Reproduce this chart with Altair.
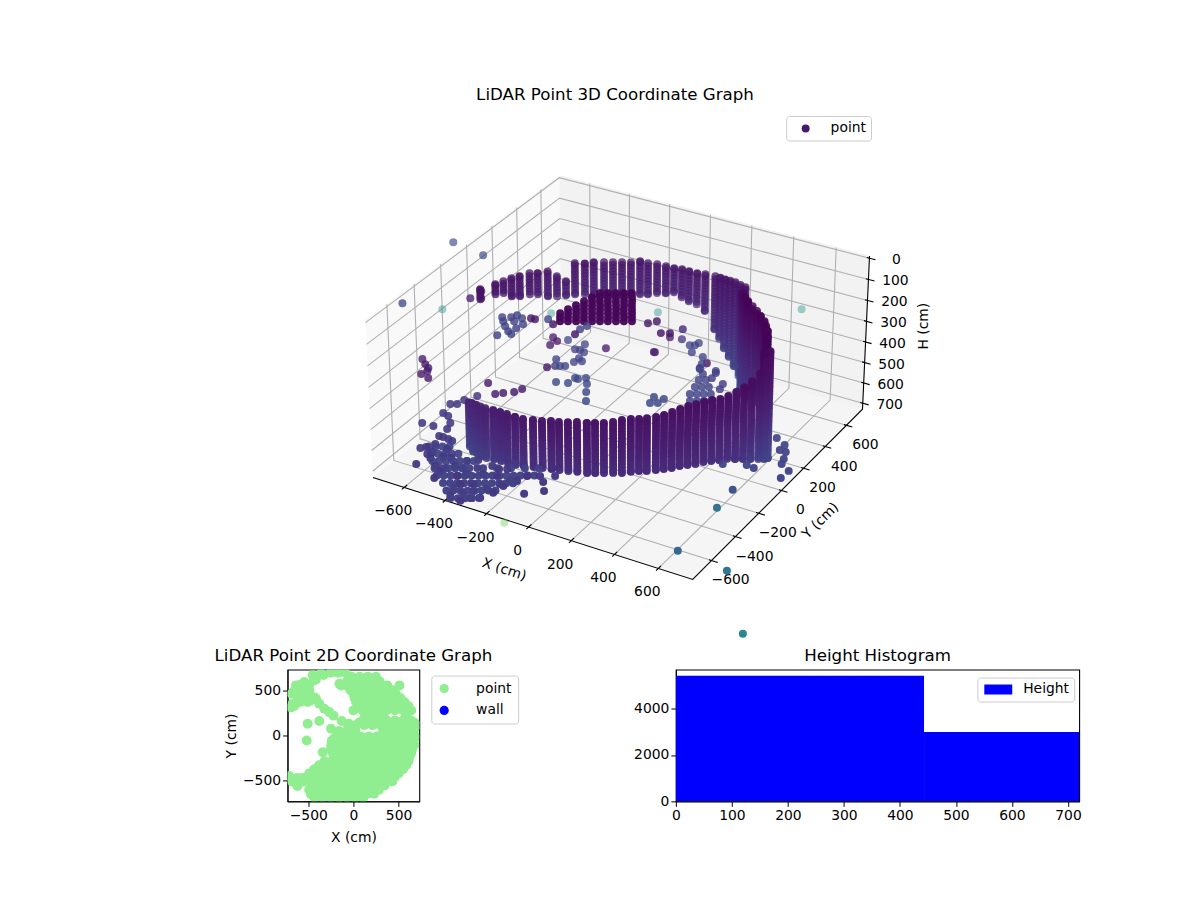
import math

import altair as alt
import numpy as np
import pandas as pd

FONT = "DejaVu Sans"

# scan columns of the ring: position, then first and last height of each column
ring_x = [-455,-420,-385,-350,-313,-258,-214,-173,-129,-87,-37,6,47,82,120,157,196,227,260,293,324,354,381,406,434,458,481,503,524,544,563,581,598,613,627,619,624,624,616,601,564,520,460,386,318,262,244,185,129,76,25,-15,-53,-86,-122,-158,-196,-234,-266,-302,-336,-369,-401,-436,-465,-496,-523,-548,-572,-596,-614,-633,-647,-658,-666,-669,596,545,490,423,352,290,253,215,157,103]
ring_y = [-475,-505,-528,-550,-570,-597,-614,-627,-637,-644,-649,-650,-648,-645,-639,-631,-620,-609,-596,-580,-564,-545,-527,-508,-484,-462,-438,-412,-385,-356,-324,-291,-255,-215,-173,-89,-31,40,107,170,205,300,386,460,509,562,624,644,657,666,670,670,668,664,659,651,641,628,615,598,580,559,537,509,482,450,419,385,349,306,269,219,176,129,77,-37,125,252,343,423,485,535,593,634,650,661]
ring_top = [424,402,389,375,362,341,329,319,314,308,295,286,275,271,263,256,254,251,248,241,231,227,229,227,226,221,213,206,200,200,201,203,212,214,213,235,235,233,213,201,182,193,204,212,207,209,214,215,222,225,231,237,236,234,236,232,228,227,220,227,227,226,225,221,222,215,295,262,228,224,211,208,201,197,189,161,190,188,198,208,210,208,212,215,218,223]
ring_bottom = [637,634,621,612,599,572,559,549,539,527,514,505,498,494,490,487,486,482,479,477,476,472,469,472,471,471,472,470,473,478,479,487,496,507,526,573,602,640,678,711,658,648,637,623,668,696,698,625,559,484,411,388,383,370,353,364,369,379,381,383,384,383,381,377,373,366,364,360,349,326,313,305,288,254,237,208,670,653,642,630,645,680,697,660,590,520]
scan_levels = [105,120,135,150,165,180,195,210,225,240,255,270,285,300,315,330,345,360,375,390,405,420,435,450,465,480,495,510,525,540,555,570,585,600,615,630,645,660,675,690,705]

# the dense clump near the sensor
clump_x = [-413,-384,-354,-325,-295,-266,-237,-207,-178,-148,-431,-402,-372,-343,-313,-284,-254,-225,-195,-166,-449,-420,-390,-361,-331,-302,-272,-242,-213,-183,-438,-408,-379,-349,-319,-290,-260,-231,-201,-427,-397,-367,-337,-308,-278,-248,-219,-415,-385,-356,-326,-296,-266,-236,-404,-374,-344,-314,-284,-254,-392,-362,-332,-302,-272]
clump_y = [186,203,220,237,254,271,288,305,322,339,216,233,250,267,284,302,319,336,353,370,247,264,281,298,315,332,349,366,383,400,294,311,328,345,362,380,397,414,431,342,359,376,393,410,428,445,462,390,407,424,441,458,476,493,438,455,472,490,507,524,486,503,521,538,555]
clump_h = 350

# loose returns
stray_x = [-1146,-966,-1030,-854,-803,-796,-763,-532,-596,-574,-544,-510,-486,-563,-534,-551,-495,-519,-488,-486,-467,-419,-378,-435,-507,-474,-482,-438,-254,-258,-246,-261,-66,-36,-12,-47,-357,-371,-349,-325,-317,-318,-293,-397,-395,-370,-352,-333,-891,-857,-827,-825,-781,-817,-540,-466,-441,-406,-390,-297,-249,-245,-230,-205,-176,-145,-108,121,131,159,165,-584,-559,-551,-517,-522,-570,-539,-501,-601,-548,-486,-484,-466,-439,-417,-464,-499,-401,-483,-440,-449,-422,-446,-381,-349,-371,-325,-333,-328,-302,-254,-266,-281,-246,-231,-217,-173,-137,-109,-101,-172,-116,-166,-211,-197,-143,-121,-87,-62,-55,-27,-12,33,85,67,105,48,-26,-219,-165,-138,-98,-73,-51,749,655,671,905,1159,873,876,827,817,744,709,622,757,799,770,771,717,249,319,255,170,206,328,267,292,317,342,239,264,289,315,229,254,280,215,241,469,53,86,-70,-17,116,38,57,63,75,-62,136,176,161,174,241,291]
stray_y = [489,451,-92,-51,90,167,114,-126,16,-11,-44,-74,-89,35,12,63,-35,51,9,70,71,99,72,150,281,260,215,291,44,92,129,312,385,279,313,384,297,238,242,235,180,140,164,124,46,71,81,92,-161,-191,-213,-270,-284,-236,-193,-255,-232,-202,-164,-43,-25,26,25,49,8,-51,-115,55,4,20,61,-418,-404,-362,-370,-307,-494,-504,-547,-605,-602,-594,-657,-655,-658,-663,-717,-774,-726,-755,-776,-799,-818,-885,-786,-776,-860,-938,-882,-852,-820,-879,-816,-763,-735,-849,-788,-745,-751,-735,-686,-815,-800,-898,-924,-1019,-1030,-992,-972,-915,-851,-792,-740,-714,-684,-746,-802,-860,-895,-963,-975,-942,-902,-845,-806,-421,-374,-726,-754,-1099,-246,-183,-150,-112,-233,-227,-269,-137,-60,-14,-58,19,360,293,314,363,325,250,101,116,130,145,151,166,181,195,213,227,242,272,287,713,232,251,533,544,308,515,526,550,466,387,452,415,397,356,375,452]
stray_h = [300]*24+[500]*4+[300]*3+[500]*2+[300]*3+[500]*35+[500]*57+[640]+[500]*6+[500]+[640]*4+[500]*31+[300]+[300]*2+[500]+[500]+[300]+[500]*11
stray_shade = [.22]*3+[.5]+[.08]*3+[.2]*12+[.06]*2+[.2]+[.06]+[.5]+[.06]*3+[.2]+[.06]+[.2]*2+[.06]*3+[.06]+[.5]+[.2]*8+[.06]+[.2]*3+[.07]*6+[.07]+[.08]*4+[.22]*12+[.16]*57+[.78]+[.18]*6+[.24,.36,.33,.38,.45]+[.2]*12+[.18]*6+[.2]*13+[.5]+[.06]*3+[.14]*2+[.2]*4+[.1]+[.2]+[.06]+[.2]*4

# the thick lower-left part of the ring, all near 500 cm
thick_x = [-187,-162,-138,-114,-90,-232,-208,-184,-159,-135,-111,-87,-63,-274,-250,-225,-201,-177,-153,-129,-105,-80,-56,-32,-326,-302,-278,-253,-229,-205,-181,-157,-133,-108,-84,-60,-36,-12,12,-364,-340,-316,-292,-268,-243,-195,-147,-98,-50,-2,46,-402,-378,-354,-330,-306,-282,-257,-437,-413,-389,-365,-341,-476,-452,-428,-403]
thick_y = [-1032,-1018,-1004,-990,-976,-993,-980,-966,-952,-938,-924,-910,-896,-953,-939,-926,-912,-898,-884,-870,-856,-842,-828,-814,-918,-904,-890,-877,-863,-849,-835,-821,-807,-793,-779,-765,-751,-737,-723,-876,-862,-848,-835,-821,-807,-779,-751,-723,-695,-667,-640,-834,-820,-806,-792,-779,-765,-751,-790,-776,-762,-748,-735,-747,-733,-719,-705]
thick_h = 500
thick_shade = .19

# top view
flat_rows = {
    -690: [-430,-340,-250,-160,-70,20,110],
    -650: [-470],
    -645: [-385,-295,-205,-115,-25,65,155,230],
    -600: [-490,-400,-310,-220,-130,-40,50,140,230,280],
    -560: [-620],
    -555: [-445,-355,-265,-175,-85,5,95,185,275,345],
    -510: [-680,-620,-550,-460,-370,-280,-190,-100,-10,80,170,260,350,430],
    -470: [-620,-560],
    -465: [-445,-355,-265,-175,-85,5,95,185,275,365,455],
    -450: [-710],
    -420: [-490,-400,-310,-220,-130,-40,50,140,230,320,410,500],
    -375: [-435,-345,-255,-165,-75,15,105,195,285,375,465,550],
    -330: [-380,-290,-200,-110,-20,70,160,250,340,430,520,585],
    -285: [-320,-245,-155,-65,25,115,205,295,385,475,565,610],
    -240: [-210,-120,-30,60,150,240,330,420,510,600,620],
    -195: [-230,-165,-75,15,105,195,285,375,465,555,640],
    -185: [-340],
    -150: [-250,-160,-70,20,110,200,290,380,470,560,650],
    -105: [-245,-205,-115,-25,65,155,245,335,425,515,605,675],
    -60: [-240,-150,-60,30,120,210,300,390,480,570,660],
    -55: [-518],
    -35: [-215,-125,-35,55,145,235,325,415,505,595,675],
    -10: [-190,-100,-10,80,170,260,350,440,530,620,680],
    20: [-170,-80,10,320,410,500,590,670],
    50: [-160,-70,20,330,420,510,600,660],
    74: [-248],
    85: [-20,340,430,520,610,680],
    115: [-60,30,120,210,300,390,480,570,660,696],
    130: [-507,-50],
    140: [60,150,240,330,420,510,600,680],
    160: [-378,-130],
    165: [100,190,280,370,460,550,640],
    220: [-220],
    222: [130,230,330,580],
    259: [-267],
    278: [0,640],
    280: [100,190,280,370,460,550],
    296: [-322],
    310: [-690],
    325: [85,175,265,355,445,535,610],
    330: [-655],
    352: [-674,-378],
    370: [30,120,210,300,390,480,565,-507,-590],
    390: [-530,-470],
    407: [-507,-415],
    415: [15,105,195,285,375,465,520],
    420: [-430],
    426: [-618],
    440: [-560],
    460: [0,90,180,270,360,470],
    463: [-685],
    470: [-490],
    500: [-581,-650,-490],
    505: [-35,55,145,235,325,420],
    537: [-507],
    555: [-637,-137,-75,15,105,195,285,375,510],
    560: [-490,-600],
    574: [-155],
    592: [-545],
    600: [-70,20,110,200,250,290],
    610: [-440],
    620: [-415],
    650: [-20,70,160,250],
    667: [-452],
    670: [-330],
    685: [-360],
    695: [-250,-170,-90],
}
legend_2d = ["point", "wall"]

hist_edges = [0, 443, 720]
hist_counts = [5414, 2986]

x_ticks = [-600, -400, -200, 0, 200, 400, 600]
y_ticks = [-600, -400, -200, 0, 200, 400, 600]
h_ticks = [0, 100, 200, 300, 400, 500, 600, 700]

# limits of the 3D box
XMIN, XMAX = -755, 755
YMIN, YMAX = -755, 755
HTOP, HBOT = -10, 730


def project(x, y, h):
    # elev 30, azim -60, camera distance 10
    rx = np.asarray(x, float) / 755 * .595
    ry = np.asarray(y, float) / 755 * .595
    rz = -(np.asarray(h, float) - 360) / 370 * .294
    den = 10 - .433 * rx + .75 * ry - .5 * rz
    sx = 622.3 + 3060 * (.866 * rx + .5 * ry) / den
    sy = 365.2 - 3050 * (-.25 * rx + .433 * ry + .866 * rz) / den
    near = .433 * rx - .75 * ry + .5 * rz
    return sx, sy, near


rows = []
for cx, cy, top, bot in zip(ring_x, ring_y, ring_top, ring_bottom):
    hs = [top] + [v for v in scan_levels if top < v < bot] + [bot]
    for v in hs:
        d = math.sqrt(cx * cx + cy * cy + v * v)
        rows.append((cx, cy, v, max((d - 620) / 1500, 0)))
for cx, cy in zip(clump_x, clump_y):
    rows.append((cx, cy, clump_h, .01))
for cx, cy, v, s in zip(stray_x, stray_y, stray_h, stray_shade):
    rows.append((cx, cy, v, s))
for cx, cy in zip(thick_x, thick_y):
    rows.append((cx, cy, thick_h, thick_shade))
cloud = pd.DataFrame(rows, columns=["x", "y", "h", "shade"])
cloud["sx"], cloud["sy"], cloud["near"] = project(cloud.x, cloud.y, cloud.h)
cloud["alpha"] = (.86 + .3 * cloud.near).clip(.4, .98)
cloud.loc[cloud.shade >= .5, "alpha"] = .42
cloud.loc[cloud.shade == .01, "alpha"] = .95
cloud = cloud.sort_values("near").reset_index(drop=True)

scale_x = alt.Scale(domain=[8, 1192])
scale_y = alt.Scale(domain=[648, 8])
enc_x = alt.X("sx:Q", scale=scale_x, axis=None)
enc_y = alt.Y("sy:Q", scale=scale_y, axis=None)


def polyline(points, seg=0):
    xs, ys, hs = zip(*points)
    sx, sy, _ = project(xs, ys, hs)
    return pd.DataFrame({"sx": sx, "sy": sy, "o": range(len(xs)), "seg": seg})


def pane(corners, color):
    return alt.Chart(polyline(corners)).mark_line(fill=color, stroke=color, strokeWidth=1).encode(
        x=enc_x, y=enc_y, order="o:Q")


def segments(items, color, width=1.1):
    df = pd.concat([polyline(p, i) for i, p in enumerate(items)], ignore_index=True)
    return alt.Chart(df).mark_line(color=color, strokeWidth=width).encode(
        x=enc_x, y=enc_y, detail="seg:N", order="o:Q")


def tick_text(xs, ys, hs, labels, dx, dy):
    sx, sy, _ = project(xs, ys, hs)
    df = pd.DataFrame({"sx": sx, "sy": sy, "t": [str(v).replace("-", "\u2212") for v in labels]})
    return alt.Chart(df).mark_text(font=FONT, fontSize=13.9, color="black", dx=dx, dy=dy).encode(
        x=enc_x, y=enc_y, text="t:N")


def note(text, px, py, size=13.9, angle=0, align="center"):
    return alt.Chart(pd.DataFrame({"t": [text]})).mark_text(
        font=FONT, fontSize=size, color="black", angle=angle, align=align, baseline="middle"
    ).encode(x=alt.value(px - 8), y=alt.value(py - 8), text="t:N")


panes = [
    pane([(XMIN, YMIN, HBOT), (XMIN, YMAX, HBOT), (XMIN, YMAX, HTOP), (XMIN, YMIN, HTOP)], "#f9f9f9"),
    pane([(XMIN, YMAX, HBOT), (XMAX, YMAX, HBOT), (XMAX, YMAX, HTOP), (XMIN, YMAX, HTOP)], "#f2f2f2"),
    pane([(XMIN, YMIN, HBOT), (XMAX, YMIN, HBOT), (XMAX, YMAX, HBOT), (XMIN, YMAX, HBOT)], "#f5f5f5"),
]
grid = []
for t in x_ticks:
    grid.append([(t, YMIN, HBOT), (t, YMAX, HBOT), (t, YMAX, HTOP)])
for t in y_ticks:
    grid.append([(XMAX, t, HBOT), (XMIN, t, HBOT), (XMIN, t, HTOP)])
for t in h_ticks:
    grid.append([(XMIN, YMIN, t), (XMIN, YMAX, t), (XMAX, YMAX, t)])
spines = [
    [(XMIN, YMIN, HBOT), (XMAX, YMIN, HBOT), (XMAX, YMAX, HBOT), (XMAX, YMAX, HTOP)],
]
ticks = []
for t in x_ticks:
    ticks.append([(t, YMIN - 18, HBOT), (t, YMIN + 22, HBOT)])
for t in y_ticks:
    ticks.append([(XMAX - 12, t, HBOT), (XMAX + 28, t, HBOT)])
for t in h_ticks:
    ticks.append([(XMAX - 12, YMAX, t), (XMAX + 28, YMAX, t)])

points = alt.Chart(cloud).mark_circle(size=64).encode(
    x=enc_x,
    y=enc_y,
    color=alt.Color("shade:Q", scale=alt.Scale(scheme="viridis", domain=[0, 1]), legend=None),
    opacity=alt.Opacity("alpha:Q", scale=None, legend=None),
)

one = pd.DataFrame({"a": [0]})
legend_box = alt.Chart(one).mark_rect(fill="white", stroke="#cccccc", cornerRadius=3).encode(
    x=alt.value(787 - 8), x2=alt.value(872 - 8), y=alt.value(115 - 8), y2=alt.value(139.5 - 8))
legend_dot = alt.Chart(one).mark_circle(size=64, color="#47186a", opacity=1).encode(
    x=alt.value(806 - 8), y=alt.value(127 - 8))

top = alt.layer(
    *panes,
    segments(grid, "#b0b0b0"),
    segments(spines, "black"),
    segments(ticks, "black"),
    tick_text(x_ticks, [YMIN] * 7, [HBOT] * 7, x_ticks, -11, 24),
    tick_text([XMAX] * 7, y_ticks, [HBOT] * 7, y_ticks, 19, 20),
    tick_text([XMAX] * 8, [YMAX] * 8, h_ticks, h_ticks, 27, 2),
    points,
    note("LiDAR Point 3D Coordinate Graph", 615, 93.5, 16.7),
    note("X (cm)", 504, 569, angle=18),
    note("Y (cm)", 821, 520, angle=315),
    note("H (cm)", 925, 325, angle=270),
    legend_box,
    legend_dot,
    note("point", 831, 127, align="left"),
).properties(width=1184, height=640, view=alt.ViewConfig(stroke="transparent"))

flat_x, flat_y = [], []
for fy, xs in flat_rows.items():
    for fx in xs:
        flat_x.append(fx)
        flat_y.append(fy)
flat = pd.DataFrame({"x": flat_x, "y": flat_y, "kind": "point"})

panel_2d = alt.Chart(flat).mark_circle(size=100, opacity=1, clip=True).encode(
    x=alt.X("x:Q", title="X (cm)", scale=alt.Scale(domain=[-730, 730]),
            axis=alt.Axis(values=[-500, 0, 500], grid=False, format="d", titlePadding=8)),
    y=alt.Y("y:Q", title="Y (cm)", scale=alt.Scale(domain=[-730, 730]),
            axis=alt.Axis(values=[-500, 0, 500], grid=False, format="d")),
    color=alt.Color("kind:N", scale=alt.Scale(domain=legend_2d, range=["lightgreen", "blue"]),
                    legend=alt.Legend(title=None, orient="none", legendX=144, legendY=6, symbolType="circle",
                                      symbolSize=85, padding=6, labelOffset=25, rowPadding=7)),
).properties(width=132, height=132, title="LiDAR Point 2D Coordinate Graph")

hist = pd.DataFrame({"lo": hist_edges[:-1], "hi": hist_edges[1:], "n": hist_counts,
                     "base": [0, 0], "kind": "Height"})
panel_hist = alt.Chart(hist).mark_rect(clip=True).encode(
    x=alt.X("lo:Q", title=None, scale=alt.Scale(domain=[0, 720], nice=False),
            axis=alt.Axis(values=h_ticks, grid=False, format="d")),
    x2="hi:Q",
    y=alt.Y("n:Q", title=None, scale=alt.Scale(domain=[0, 5680], nice=False),
            axis=alt.Axis(values=[0, 2000, 4000], grid=False, format="d")),
    y2="base:Q",
    color=alt.Color("kind:N", scale=alt.Scale(domain=["Height"], range=["blue"]),
                    legend=alt.Legend(title=None, orient="none", legendX=302, legendY=8,
                                      symbolType="M-2.8,-1H2.8V1H-2.8Z", symbolSize=100, padding=5,
                                      symbolOffset=9, labelOffset=18)),
).properties(width=404, height=132, title="Height Histogram")

spacer = alt.Chart(one).mark_point(opacity=0).properties(
    width=22, height=132, view=alt.ViewConfig(stroke="transparent"))

row = alt.hconcat(spacer, panel_2d, panel_hist, spacing=257, bounds="flush").resolve_scale(color="independent")
chart = alt.vconcat(top, row, spacing=21, bounds="flush").resolve_scale(color="independent").properties(padding=0).configure_view(
    stroke="black", strokeWidth=1.1
).configure_axis(
    labelFont=FONT, titleFont=FONT, labelFontSize=13.9, titleFontSize=13.9, titleFontWeight="normal",
    labelColor="black", titleColor="black", domainColor="black", tickColor="black", tickSize=5,
    labelFlush=False, labelOverlap=False,
).configure_title(font=FONT, fontSize=16.7, fontWeight="normal", color="black", offset=5).configure_legend(
    labelFont=FONT, labelFontSize=13.9, labelColor="black", strokeColor="#cccccc", cornerRadius=3,
    fillColor="white",
)

chart.save("out.html", embed_options={"renderer": "svg", "actions": False})
